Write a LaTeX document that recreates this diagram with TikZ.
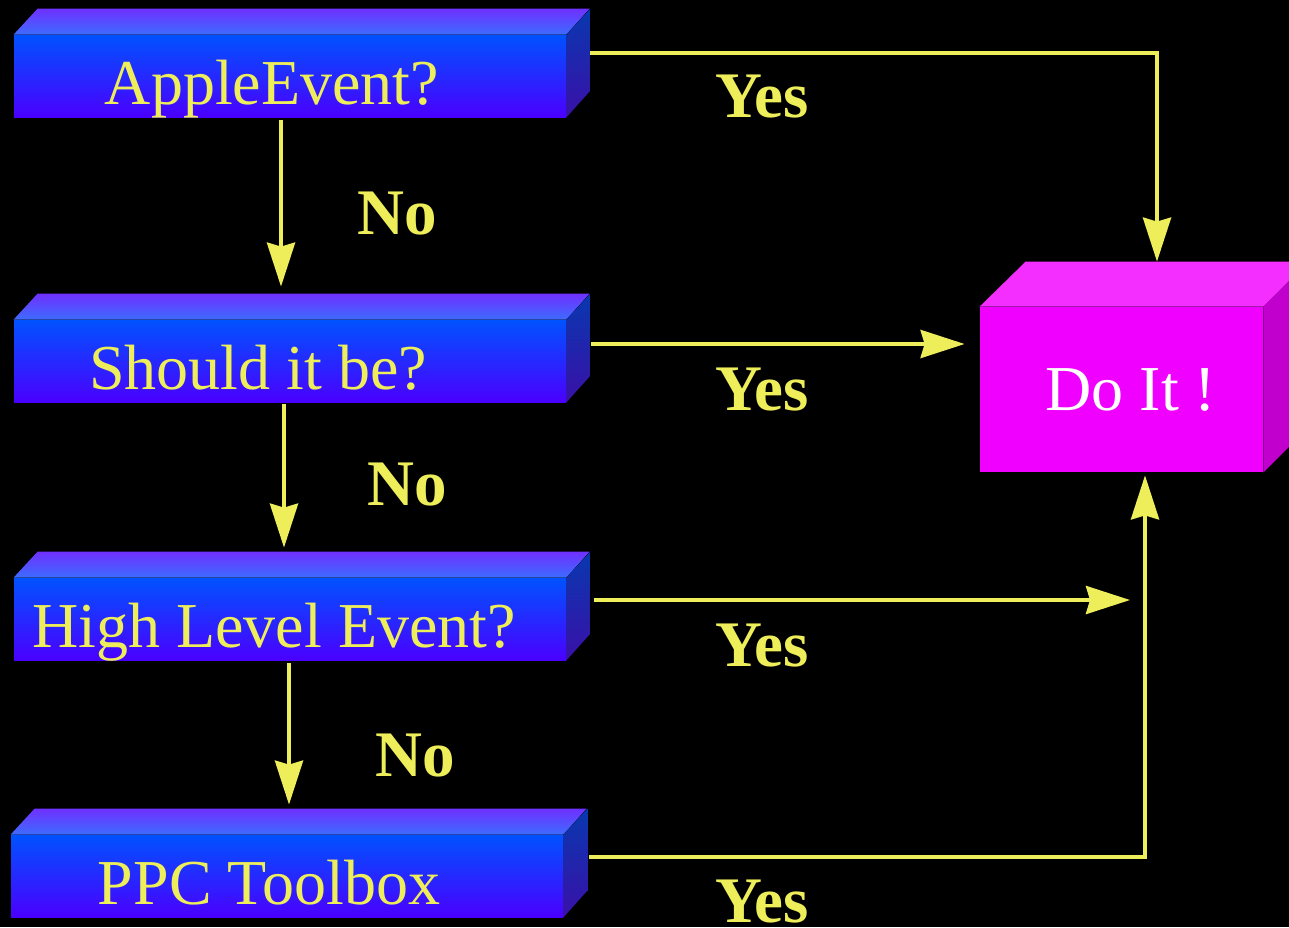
\documentclass[tikz,border=0pt]{standalone}
\usepackage{fontspec}
\setmainfont{Liberation Serif}
\usetikzlibrary{arrows.meta}

\definecolor{txtyellow}{HTML}{EEEE5A}
\definecolor{frontA}{HTML}{0052FF}
\definecolor{frontB}{HTML}{4A00FF}
\definecolor{topA}{HTML}{3C6CFF}
\definecolor{topB}{HTML}{7030FF}
\definecolor{sideA}{HTML}{0838B0}
\definecolor{sideB}{HTML}{3A10A8}
\definecolor{doFront}{HTML}{F000FF}
\definecolor{doTop}{HTML}{F42EFF}
\definecolor{doSide}{HTML}{C200CE}

\tikzset{
  qbox/.style={minimum width=276pt,minimum height=41pt,inner sep=0pt,
    text height=28pt,text depth=0pt,
    top color=frontA,bottom color=frontB,text=txtyellow,
    font=\fontsize{32}{36}\selectfont},
  qtop/.style={top color=topB,bottom color=topA},
  qside/.style={top color=sideA,bottom color=sideB},
  flow/.style={draw=txtyellow,line width=2pt,
    -{Stealth[length=22pt,width=14pt,inset=2pt]}},
  lbl/.style={text=txtyellow,anchor=base,font=\fontsize{32.5}{36}\selectfont\bfseries}
}

\begin{document}
\begin{tikzpicture}[x=0.5pt,y=-0.5pt]
\useasboundingbox (0,0) rectangle (1289,927);
\fill[black] (0,0) rectangle (1289,927);

%question 1
\node[qbox] (ae) at (290,76) {AppleEvent?\hspace*{18pt}};
\fill[qtop] (ae.north west) -- ++(24,-26) -- ++(552,0) -- (ae.north east) -- cycle;
\fill[qside] (ae.north east) -- ++(24,-26) -- ++(0,82) -- (ae.south east) -- cycle;

%question 2
\node[qbox] (sb) at (290,361) {Should it be?\hspace*{32pt}};
\fill[qtop] (sb.north west) -- ++(24,-26) -- ++(552,0) -- (sb.north east) -- cycle;
\fill[qside] (sb.north east) -- ++(24,-26) -- ++(0,82) -- (sb.south east) -- cycle;

%question 3
\node[qbox] (hl) at (290,619) {High Level Event?\hspace*{16pt}};
\fill[qtop] (hl.north west) -- ++(24,-26) -- ++(552,0) -- (hl.north east) -- cycle;
\fill[qside] (hl.north east) -- ++(24,-26) -- ++(0,82) -- (hl.south east) -- cycle;

%fall through
\node[qbox] (ppc) at (287,876) {PPC Toolbox\hspace*{18pt}};
\fill[qtop] (ppc.north west) -- ++(24,-26) -- ++(552,0) -- (ppc.north east) -- cycle;
\fill[qside] (ppc.north east) -- ++(24,-26) -- ++(0,82) -- (ppc.south east) -- cycle;

%target
\node[minimum width=141.5pt,minimum height=82.5pt,inner sep=0pt,fill=doFront,
  text=white,font=\fontsize{32}{36}\selectfont] (doit) at (1121.5,389.5) {\hspace*{9.5pt}Do It !};
\fill[doTop] (doit.north west) -- ++(46,-45) -- ++(283,0) -- (doit.north east) -- cycle;
\fill[doSide] (doit.north east) -- ++(46,-45) -- ++(0,165) -- (doit.south east) -- cycle;

%No arrows
\draw[flow] ([shift={(-9,3)}]ae.south) -- ([shift={(-9,-33)}]sb.north);
\draw[flow] ([shift={(-6,2)}]sb.south) -- ([shift={(-6,-30)}]hl.north);
\draw[flow] ([shift={(-1,3)}]hl.south) -- ([shift={(2,-30)}]ppc.north);

%Yes arrows
\coordinate (join) at (1130,600);
\draw[flow] ([shift={(24,-23)}]ae.east) -| ([shift={(35.5,-45)}]doit.north);
\draw[flow] ([shift={(25,-17)}]sb.east) -- ([shift={(-15,-45.5)}]doit.west);
\draw[flow] ([shift={(28,-19)}]hl.east) -- (join);
\draw[flow] ([shift={(26,-19)}]ppc.east) -| ([shift={(23.5,3)}]doit.south);

% Text Node
\node[lbl] (y1) at (762,117) {Yes};
\node[lbl] (y2) at (762,410) {Yes};
\node[lbl] (y3) at (762,666) {Yes};
\node[lbl] (y4) at (762,922) {Yes};
% Text Node
\node[lbl] (n1) at (397,234) {No};
\node[lbl] (n2) at (407,505) {No};
\node[lbl] (n3) at (415,776) {No};
\end{tikzpicture}
\end{document}
